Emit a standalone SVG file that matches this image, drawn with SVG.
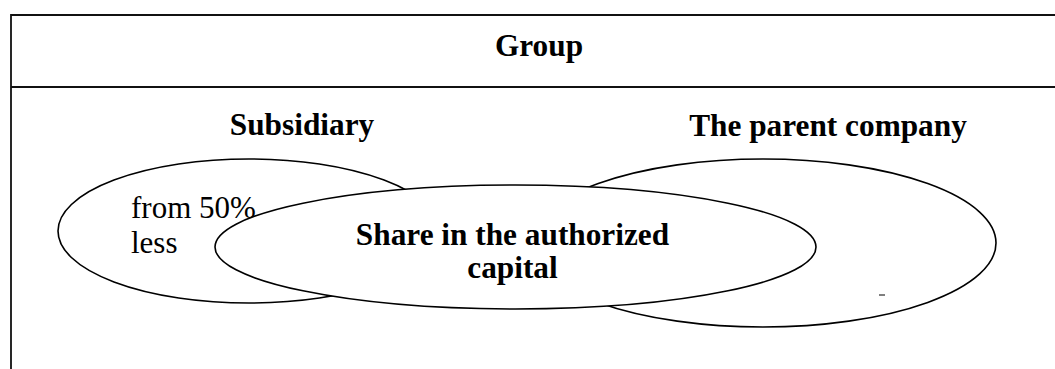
<svg xmlns="http://www.w3.org/2000/svg" width="1055" height="369" viewBox="0 0 1055 369">
  <style>
    .frame { fill: none; stroke: #111; stroke-width: 1.8; }
    .oval { fill: #fff; stroke: #000; stroke-width: 1.6; }
    .bold { font-family: "Liberation Serif", "Times New Roman", serif; font-weight: bold; font-size: 31.3px; fill: #000; }
    .plain { font-family: "Liberation Serif", "Times New Roman", serif; font-size: 31px; fill: #000; }
  </style>
  <rect width="1055" height="369" fill="#fff"/>

  <!-- outer frame: top edge, header divider, left edge -->
  <g id="frame">
    <path class="frame" d="M11,369 V15 H1055 M11,87 H1055"/>
    <text class="bold" x="539" y="56" text-anchor="middle">Group</text>
  </g>

  <g id="subsidiary">
    <ellipse class="oval" cx="249" cy="231" rx="191" ry="72"/>
    <text class="bold" x="302" y="135" text-anchor="middle">Subsidiary</text>
    <text class="plain" x="131" y="218">from 50%</text>
    <text class="plain" x="131" y="253">less</text>
  </g>

  <g id="parent">
    <ellipse class="oval" cx="763" cy="243" rx="233" ry="84"/>
    <text class="bold" x="828" y="136" text-anchor="middle">The parent company</text>
    <line x1="879" y1="295" x2="885" y2="295" stroke="#000" stroke-width="1"/>
  </g>

  <g id="share">
    <ellipse class="oval" cx="515.5" cy="247" rx="300.5" ry="62"/>
    <text class="bold" x="512.5" y="245" text-anchor="middle">Share in the authorized</text>
    <text class="bold" x="512.5" y="278" text-anchor="middle">capital</text>
  </g>

  <g id="connectors"/>
</svg>
